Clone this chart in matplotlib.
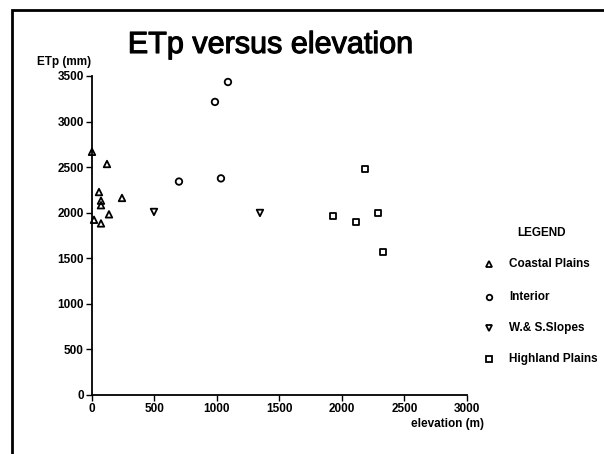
import matplotlib.pyplot as plt
import matplotlib.patheffects as pe
from matplotlib.patches import Rectangle

plt.rcParams['font.family'] = ['Liberation Sans', 'DejaVu Sans']

# data
coastal_x = [0, 120, 56, 72, 72, 240, 136, 16, 72]
coastal_y = [2667, 2533, 2225, 2130, 2080, 2160, 1980, 1920, 1880]
interior_x = [1088, 984, 696, 1032]
interior_y = [3434, 3215, 2340, 2375]
slopes_x = [496, 1344]
slopes_y = [2006, 1995]
highland_x = [2184, 1928, 2112, 2288, 2328]
highland_y = [2478, 1961, 1896, 1995, 1566]

series = [
    ("Coastal Plains", coastal_x, coastal_y, '^'),
    ("Interior", interior_x, interior_y, 'o'),
    ("W.& S.Slopes", slopes_x, slopes_y, 'v'),
    ("Highland Plains", highland_x, highland_y, 's'),
]
xticks = [0, 500, 1000, 1500, 2000, 2500, 3000]
yticks = [0, 500, 1000, 1500, 2000, 2500, 3000, 3500]

fig = plt.figure(figsize=(6.04, 4.54), dpi=100)
ax = fig.add_axes([0.1523, 0.131, 0.6207, 0.7016])

# outer frame of the scanned page (runs off the right and bottom)
fig.patches.append(Rectangle((12 / 604, -0.2), 1.2, 1.2 - 10 / 454,
                             transform=fig.transFigure, fill=False,
                             edgecolor='black', linewidth=2))

for name, xs, ys, m in series:
    ax.scatter(xs, ys, marker=m, s=22, facecolors='none', edgecolors='black',
               linewidths=1.3, clip_on=False, zorder=3)

ax.set_xlim(0, 3000)
ax.set_ylim(0, 3500)
ax.set_xticks(xticks)
ax.set_yticks(yticks)
ax.spines['top'].set_visible(False)
ax.spines['right'].set_visible(False)
ax.spines['left'].set_linewidth(1.3)
ax.spines['bottom'].set_linewidth(1.3)
ax.tick_params(length=4, width=1, labelsize=8.5, pad=2)
for lab in ax.get_xticklabels() + ax.get_yticklabels():
    lab.set_fontweight('bold')

fig.text(270 / 604, 1 - 53 / 454, "ETp versus elevation", fontsize=22,
         ha='center', va='baseline',
         path_effects=[pe.withStroke(linewidth=0.8, foreground='black')])
fig.text(64 / 604, 1 - 62 / 454, "ETp (mm)", fontsize=8.5, fontweight='bold',
         ha='center', va='center')
fig.text(484 / 604, 1 - 424 / 454, "elevation (m)", fontsize=8.5,
         fontweight='bold', ha='right', va='center')

# legend drawn by hand like the original
fig.text(541 / 604, 1 - 233 / 454, "LEGEND", fontsize=8.5, fontweight='bold',
         ha='center', va='center')
leg_y = [264, 297, 328, 359]
for (name, xs, ys, m), yy in zip(series, leg_y):
    fig.lines.append(plt.Line2D([489 / 604], [1 - yy / 454], marker=m,
                                markersize=4, markerfacecolor='none',
                                markeredgecolor='black', markeredgewidth=1.3,
                                linestyle='none', transform=fig.transFigure))
    fig.text(509 / 604, 1 - yy / 454, name, fontsize=8.5, fontweight='bold',
             ha='left', va='center')

fig.savefig("out.png", dpi=100)
